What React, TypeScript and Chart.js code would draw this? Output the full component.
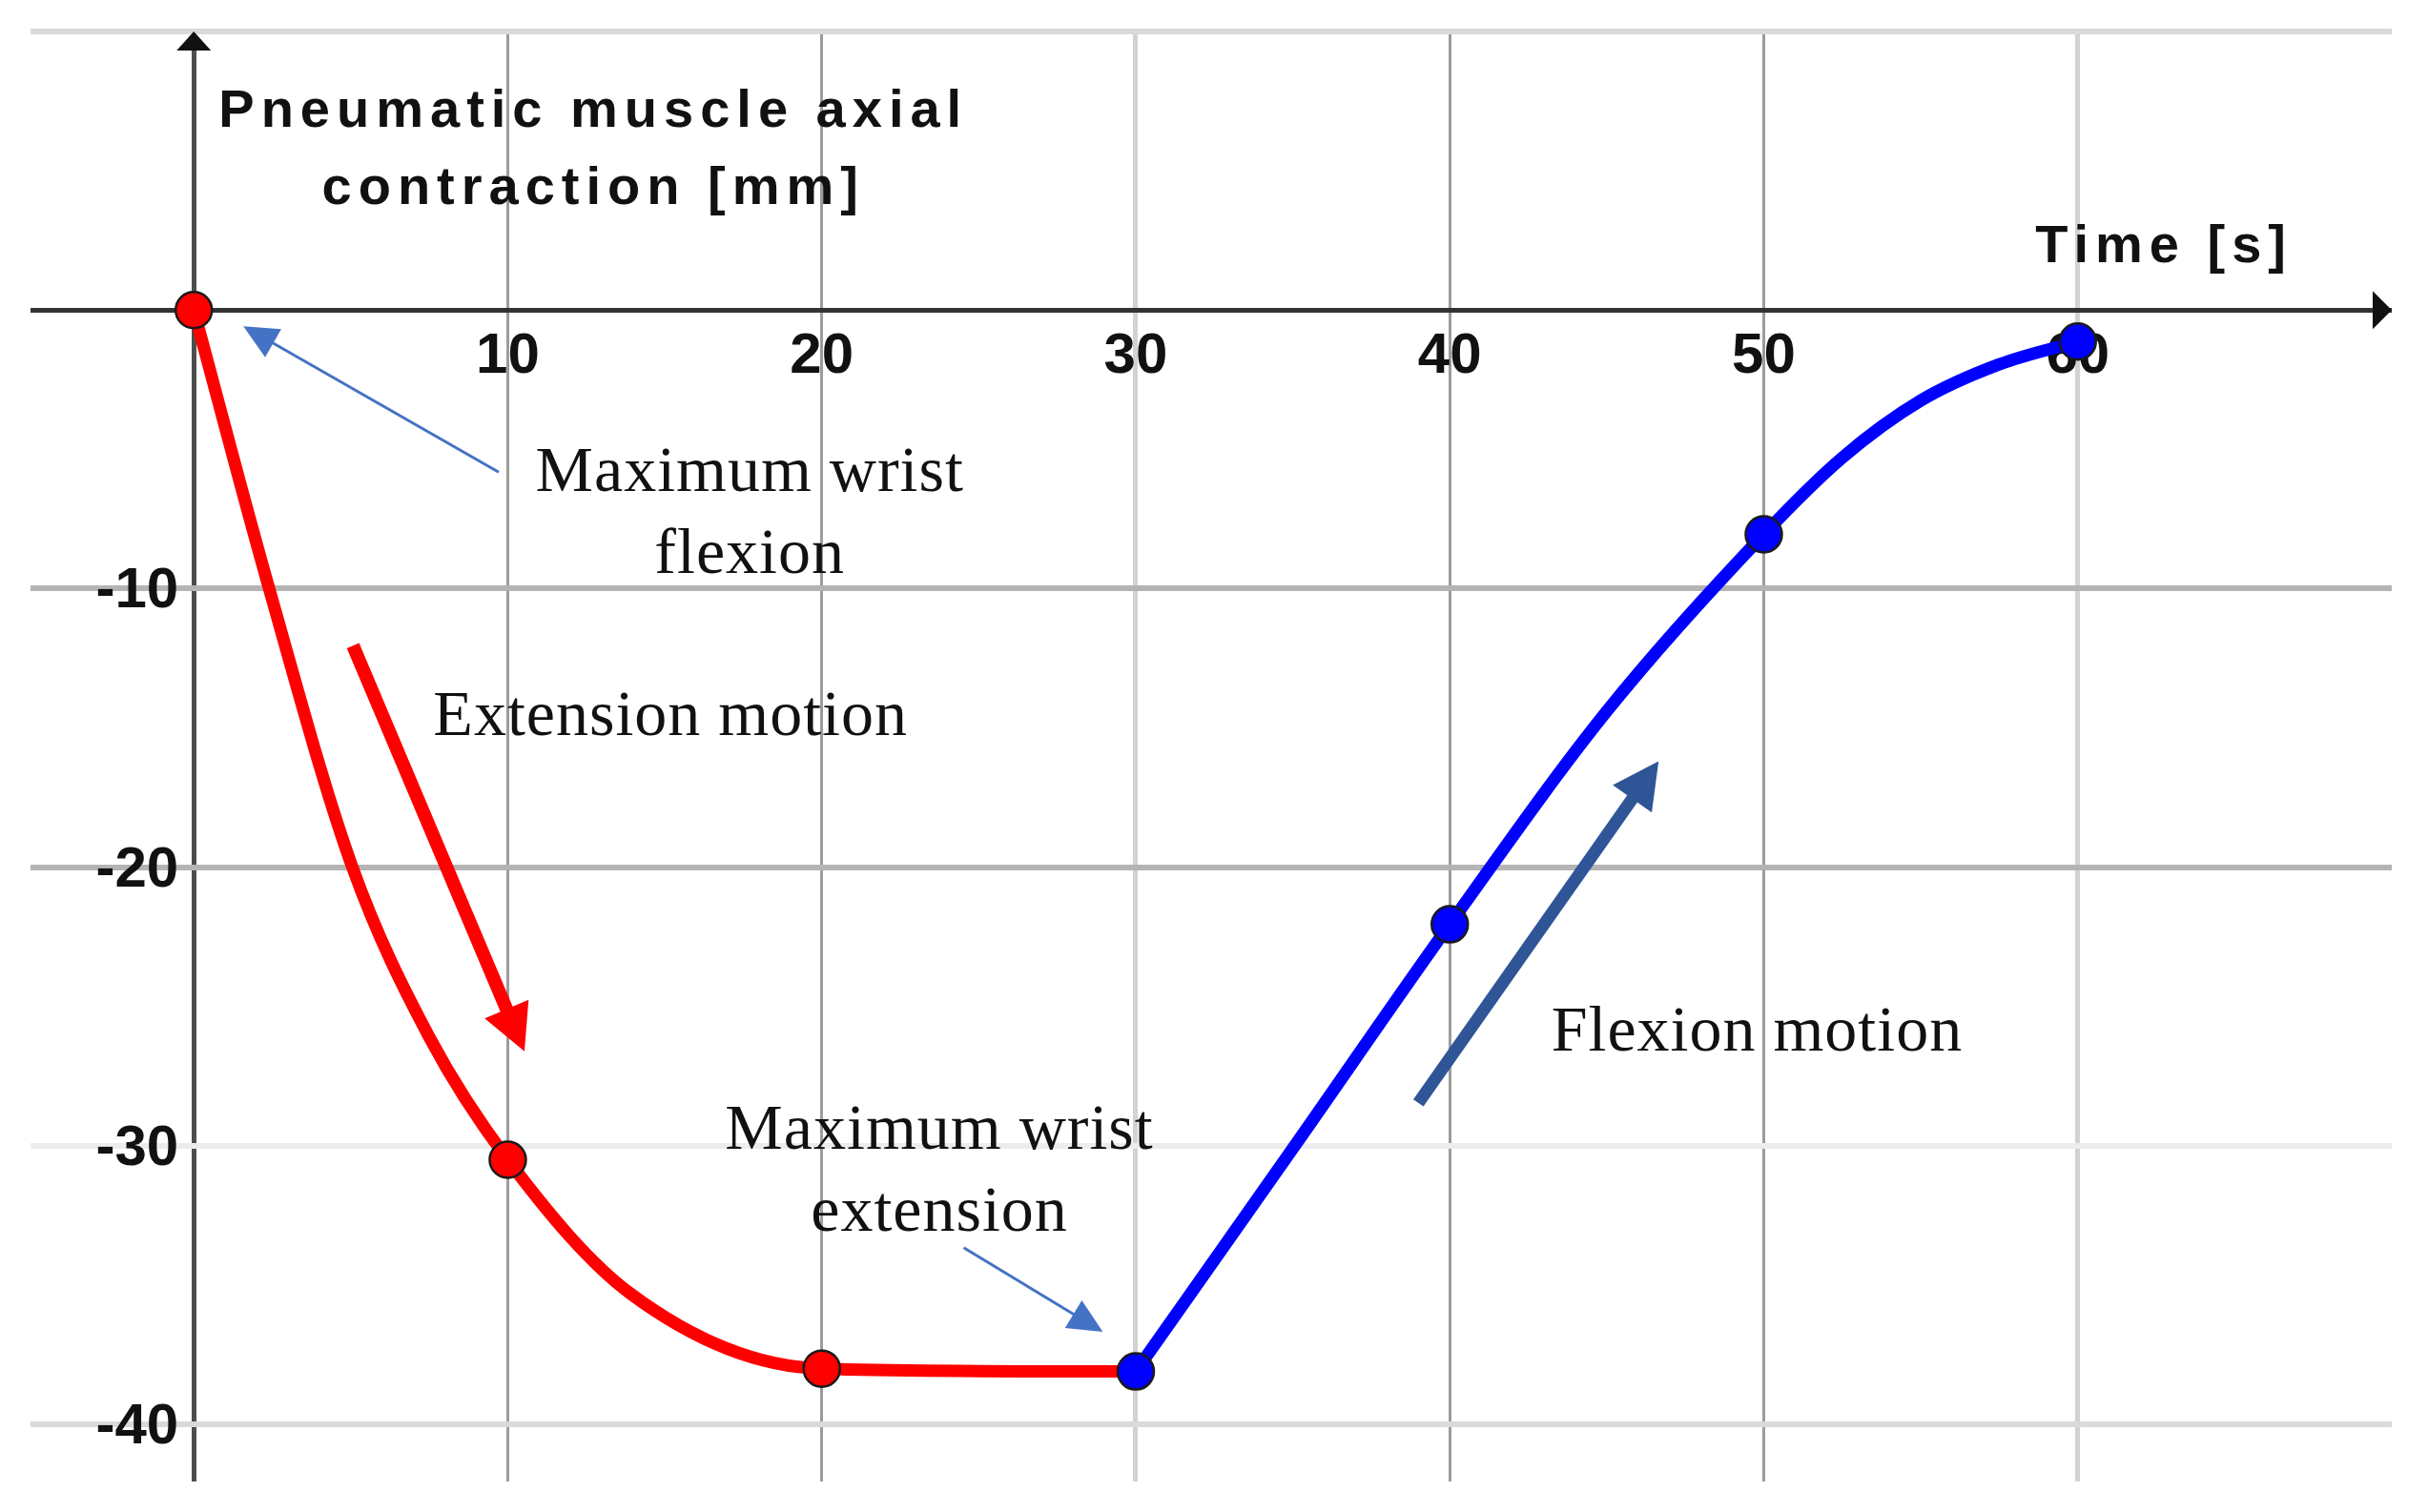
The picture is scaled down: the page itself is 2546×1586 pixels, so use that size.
import { useEffect, useRef } from "react"
import { Chart, registerables } from "chart.js"

Chart.register(...registerables)

// extension phase (red)
const redTimes = [0, 2.4, 5.05, 7.5, 10, 13.9, 20, 30]
const redValues = [0, -10, -20, -26.1, -30.5, -35.3, -38, -38.1]

// flexion phase (blue)
const blueTimes = [30, 35, 40, 45, 50, 52.5, 55, 57.5, 60]
const blueValues = [-38.1, -30.1, -22.05, -14.4, -8.05, -5.3, -3.25, -1.95, -1.13]

// measured points (markers)
const redMarkTimes = [0, 10, 20]
const redMarkValues = [0, -30.5, -38]
const blueMarkTimes = [30, 40, 50, 60]
const blueMarkValues = [-38.1, -22.05, -8.05, -1.13]

// grid / ticks
const xGridValues = [0, 10, 20, 30, 40, 50, 60]
const yGridValues = [10, 0, -10, -20, -30, -40]
const xTickValues = [10, 20, 30, 40, 50, 60]
const xTickLabels = ["10", "20", "30", "40", "50", "60"]
const yTickValues = [-10, -20, -30, -40]
const yTickLabels = ["-10", "-20", "-30", "-40"]

const SANS = "'Liberation Sans', Arial, sans-serif"
const SERIF = "'Liberation Serif', 'Times New Roman', serif"

function toPoints(xs: number[], ys: number[]) {
  return xs.map((x, i) => ({ x, y: ys[i] }))
}

function xGridColor(v: number) {
  if (v === 0) return "#4d4d4d"
  if (v === 30 || v === 60) return "#d2d2d2"
  return "#9c9c9c"
}
function xGridWidth(v: number) {
  if (v === 0) return 5
  if (v === 30 || v === 60) return 5
  return 3
}
function yGridColor(v: number) {
  if (v === 0) return "#333333"
  if (v === -10 || v === -20) return "#b4b4b4"
  if (v === -30) return "#ececec"
  return "#dadada"
}
function yGridWidth(v: number) {
  return v === 0 ? 5 : 6
}

function spacedText(ctx: CanvasRenderingContext2D, text: string, cx: number, baseline: number, spacing: number) {
  const c = ctx as any
  c.letterSpacing = "0px"
  const w = ctx.measureText(text).width + spacing * (text.length - 1)
  c.letterSpacing = `${spacing}px`
  ctx.textAlign = "left"
  ctx.fillText(text, cx - w / 2, baseline)
  c.letterSpacing = "0px"
}

function arrow(
  ctx: CanvasRenderingContext2D,
  x1: number, y1: number, x2: number, y2: number,
  color: string, width: number, headLen: number, headWidth: number
) {
  const dx = x2 - x1
  const dy = y2 - y1
  const len = Math.hypot(dx, dy)
  const ux = dx / len
  const uy = dy / len
  const bx = x2 - ux * headLen
  const by = y2 - uy * headLen
  ctx.strokeStyle = color
  ctx.fillStyle = color
  ctx.lineWidth = width
  ctx.lineCap = "butt"
  ctx.beginPath()
  ctx.moveTo(x1, y1)
  ctx.lineTo(bx + ux * 2, by + uy * 2)
  ctx.stroke()
  ctx.beginPath()
  ctx.moveTo(x2, y2)
  ctx.lineTo(bx - uy * headWidth / 2, by + ux * headWidth / 2)
  ctx.lineTo(bx + uy * headWidth / 2, by - ux * headWidth / 2)
  ctx.closePath()
  ctx.fill()
}

// annotation texts, placed in data units
const notes = [
  { lines: ["Maximum wrist", "flexion"], x: 17.69, y: [-6.51, -9.45] },
  { lines: ["Extension motion"], x: 15.17, y: [-15.24] },
  { lines: ["Maximum wrist", "extension"], x: 23.73, y: [-30.1, -33.05] },
  { lines: ["Flexion motion"], x: 49.77, y: [-26.58] },
]

// annotation arrows: [fromX, fromY, toX, toY]
const thinArrows = [
  [9.71, -5.82, 1.58, -0.58],
  [24.52, -33.66, 28.95, -36.68],
]
const redArrow = [5.07, -12.05, 10.53, -26.61]
const flexArrow = [39.0, -28.46, 46.65, -16.2]

const decorPlugin = {
  id: "decor",
  beforeDatasetsDraw(chart: any) {
    const { ctx, chartArea } = chart
    const x = chart.scales.x
    const y = chart.scales.y
    const x0 = x.getPixelForValue(0)
    const y0 = y.getPixelForValue(0)
    ctx.save()

    // axis arrow heads
    ctx.fillStyle = "#111"
    ctx.beginPath()
    ctx.moveTo(x0, chartArea.top)
    ctx.lineTo(x0 - 18, chartArea.top + 20)
    ctx.lineTo(x0 + 18, chartArea.top + 20)
    ctx.closePath()
    ctx.fill()
    ctx.beginPath()
    ctx.moveTo(chartArea.right, y0)
    ctx.lineTo(chartArea.right - 20, y0 - 20)
    ctx.lineTo(chartArea.right - 20, y0 + 20)
    ctx.closePath()
    ctx.fill()

    // tick labels
    ctx.font = `bold 60px ${SANS}`
    ctx.fillStyle = "#111"
    ctx.textBaseline = "alphabetic"
    ctx.textAlign = "center"
    xTickValues.forEach((v, i) => ctx.fillText(xTickLabels[i], x.getPixelForValue(v), y0 + 66))
    ctx.textAlign = "right"
    yTickValues.forEach((v, i) => ctx.fillText(yTickLabels[i], x0 - 16, y.getPixelForValue(v) + 20))

    // axis titles
    ctx.font = `bold 56px ${SANS}`
    spacedText(ctx, "Pneumatic muscle axial", x.getPixelForValue(12.62), y.getPixelForValue(6.58), 7)
    spacedText(ctx, "contraction [mm]", x.getPixelForValue(12.62), y.getPixelForValue(3.8), 7)
    spacedText(ctx, "Time [s]", x.getPixelForValue(62.64), y.getPixelForValue(1.71), 7)
    ctx.restore()
  },
  afterDatasetsDraw(chart: any) {
    const { ctx } = chart
    const x = chart.scales.x
    const y = chart.scales.y
    const px = (v: number) => x.getPixelForValue(v)
    const py = (v: number) => y.getPixelForValue(v)
    ctx.save()
    ctx.font = `68px ${SERIF}`
    ctx.fillStyle = "#111"
    ctx.textBaseline = "alphabetic"
    notes.forEach((n) => {
      n.lines.forEach((line, i) => spacedText(ctx, line, px(n.x), py(n.y[i]), 1))
    })
    thinArrows.forEach((a) => arrow(ctx, px(a[0]), py(a[1]), px(a[2]), py(a[3]), "#4472c4", 3, 36, 34))
    arrow(ctx, px(redArrow[0]), py(redArrow[1]), px(redArrow[2]), py(redArrow[3]), "#ff0000", 14, 48, 50)
    arrow(ctx, px(flexArrow[0]), py(flexArrow[1]), px(flexArrow[2]), py(flexArrow[3]), "#2f5597", 13, 48, 50)
    ctx.restore()
  },
}

function ContractionChart() {
  const chartRef = useRef<HTMLCanvasElement>(null)
  const chartInstance = useRef<Chart | null>(null)

  useEffect(() => {
    if (!chartRef.current) return
    if (chartInstance.current) {
      chartInstance.current.destroy()
    }
    const ctx = chartRef.current.getContext("2d")
    if (!ctx) return

    chartInstance.current = new Chart(ctx, {
      type: "scatter",
      data: {
        datasets: [
          {
            data: toPoints(blueMarkTimes, blueMarkValues),
            showLine: false,
            pointRadius: 19,
            pointBackgroundColor: "#0000ff",
            pointBorderColor: "#1a1a1a",
            pointBorderWidth: 2.5,
            order: 0,
          },
          {
            data: toPoints(redMarkTimes, redMarkValues),
            showLine: false,
            pointRadius: 19,
            pointBackgroundColor: "#ff0000",
            pointBorderColor: "#1a1a1a",
            pointBorderWidth: 2.5,
            order: 1,
          },
          {
            data: toPoints(blueTimes, blueValues),
            showLine: true,
            borderColor: "#0000ff",
            borderWidth: 13,
            pointRadius: 0,
            cubicInterpolationMode: "monotone",
            order: 2,
          },
          {
            data: toPoints(redTimes, redValues),
            showLine: true,
            borderColor: "#ff0000",
            borderWidth: 13,
            pointRadius: 0,
            cubicInterpolationMode: "monotone",
            order: 3,
          },
        ],
      } as any,
      options: {
        animation: false,
        responsive: true,
        maintainAspectRatio: false,
        layout: {
          padding: { left: 32, right: 38, top: 33, bottom: 32 },
        },
        plugins: {
          legend: { display: false },
          tooltip: { enabled: false },
        },
        scales: {
          x: {
            type: "linear",
            min: -5.2,
            max: 70,
            afterBuildTicks: (scale: any) => {
              scale.ticks = xGridValues.map((value) => ({ value }))
            },
            ticks: { display: false },
            border: { display: false },
            grid: {
              drawTicks: false,
              color: (c: any) => xGridColor(c.tick.value),
              lineWidth: (c: any) => xGridWidth(c.tick.value),
            },
          },
          y: {
            type: "linear",
            min: -42.05,
            max: 10,
            afterBuildTicks: (scale: any) => {
              scale.ticks = yGridValues.map((value) => ({ value }))
            },
            ticks: { display: false },
            border: { display: false },
            grid: {
              drawTicks: false,
              color: (c: any) => yGridColor(c.tick.value),
              lineWidth: (c: any) => yGridWidth(c.tick.value),
            },
          },
        },
      },
      plugins: [decorPlugin],
    })

    return () => {
      if (chartInstance.current) {
        chartInstance.current.destroy()
        chartInstance.current = null
      }
    }
  }, [])

  return (
    <div style={{ position: "absolute", left: 0, top: 0, width: "2546px", height: "1586px", background: "#fff" }}>
      <canvas ref={chartRef}></canvas>
    </div>
  )
}

export default function App() {
  return <ContractionChart />
}
